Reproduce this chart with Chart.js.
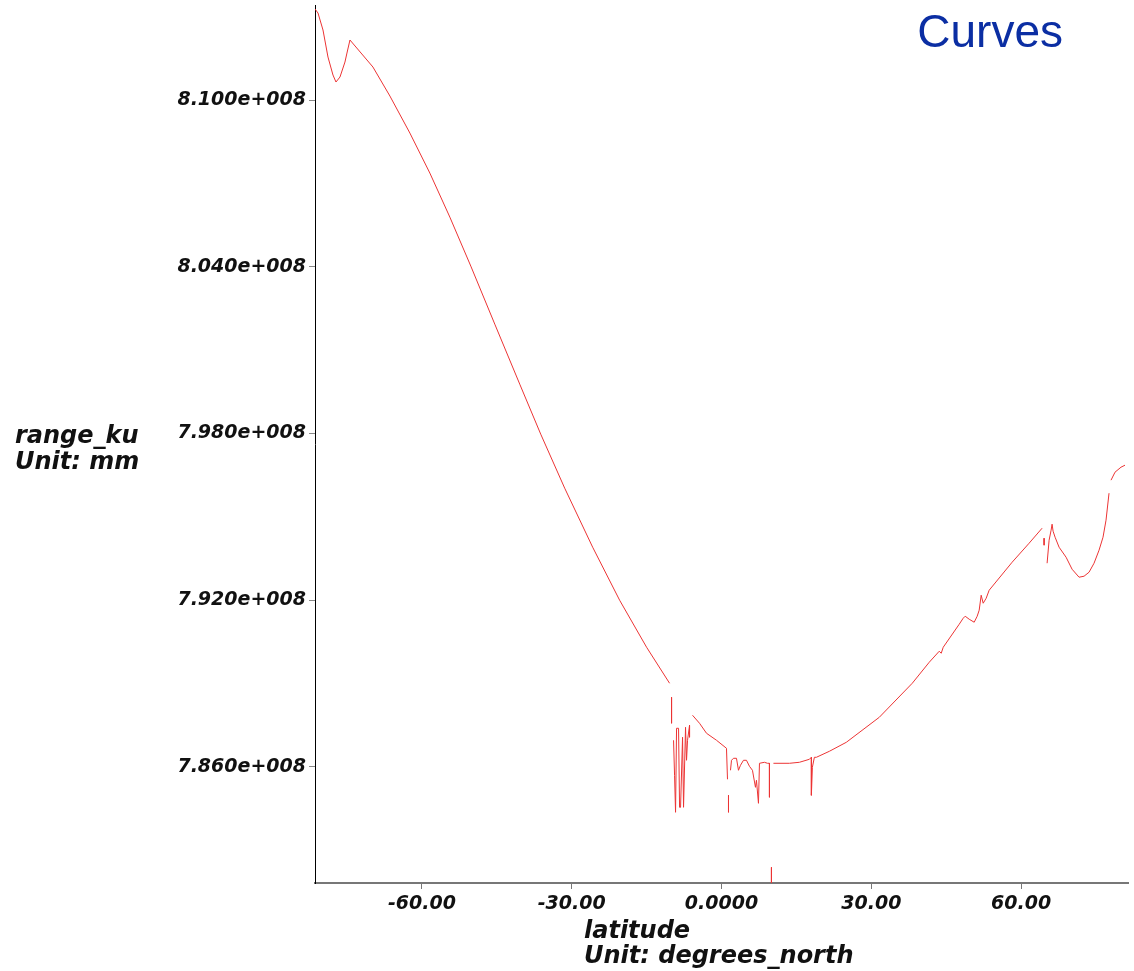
<!DOCTYPE html>
<html>
<head>
<meta charset="utf-8">
<title>Curves</title>
<script src="https://cdn.jsdelivr.net/npm/chart.js@4.4.1/dist/chart.umd.min.js"></script>
<style>
  html, body { margin: 0; padding: 0; background: #ffffff; }
  #wrap { position: relative; width: 1134px; height: 971px; }
</style>
</head>
<body>
<div id="wrap"><canvas id="curveChart" width="1134" height="971"></canvas></div>
<script>
// latitude (degrees_north) and range_ku (mm) along the track; null = gap in the track
const latitude = [
  -81.4, -80.8, -79.8, -78.8, -77.8, -77.2, -76.4, -75.4, -75.0, -74.4,
  -69.8, -66.4, -62.4, -58.4, -54.4, -50.2, -45.4, -40.4, -36.2, -31.4,
  -25.8, -20.4, -15.0, -10.4, -10.4,
  -10.0, -10.0, -10.0,
  -9.6, -9.4, -9.2, -9.0, -8.6, -8.4, -8.2, -7.8, -7.6, -7.2, -7.0, -6.8, -6.4, -6.4, -6.4,
  -5.8, -4.4, -3.0, -1.0, 1.0, 1.2, 1.2,
  1.4, 1.4, 1.4,
  1.8, 2.0, 2.4, 3.0, 3.4, 3.8, 4.4, 5.0, 5.6, 6.2, 6.8, 7.0, 7.4, 7.6, 8.6, 9.2, 9.6, 9.6, 9.6,
  10.0, 10.0, 10.0,
  10.4, 13.6, 15.6, 17.6, 18.0, 18.0, 18.2, 18.6, 19.0, 21.6, 25.0, 31.6, 38.2, 41.6, 43.6,
  44.0, 44.4, 47.6, 48.4, 48.8, 49.6, 50.6, 51.2, 51.6, 52.0, 52.4, 53.0, 53.6, 58.2, 61.6, 64.2, 64.2,
  64.6, 64.6, 64.6,
  65.2, 65.6, 66.0, 66.2, 66.4, 66.8, 67.6, 69.0, 70.2, 71.6, 72.6, 73.6, 74.6, 75.6, 76.4, 77.0, 77.6, 77.6,
  78.0, 78.8, 80.0, 80.8
];

const rangeKu = [
  813276000, 813132000, 812520000, 811548000, 810900000, 810648000, 810828000, 811368000, 811692000, 812160000,
  811188000, 810144000, 808812000, 807372000, 805788000, 804024000, 801936000, 799776000, 797976000, 796032000,
  793908000, 792000000, 790308000, 789012000, null,
  788508000, 787572000, null,
  786960000, 785700000, 784368000, 787392000, 787392000, 784548000, 784548000, 787068000, 784548000, 787428000,
  786240000, 786960000, 787500000, 787068000, null,
  787860000, 787572000, 787212000, 786960000, 786672000, 785556000, null,
  784980000, 784368000, null,
  785880000, 786240000, 786312000, 786312000, 785880000, 786060000, 786240000, 786240000, 786024000, 785880000,
  785268000, 785520000, 784692000, 786132000, 786168000, 786132000, 786132000, 784908000, null,
  782388000, 781200000, null,
  786132000, 786132000, 786168000, 786276000, 786348000, 784980000, 785988000, 786348000, 786348000, 786564000,
  786888000, 787788000, 789012000, 789768000, 790164000,
  790092000, 790308000, 791136000, 791352000, 791424000, 791316000, 791208000, 791424000, 791640000, 792180000,
  791892000, 792072000, 792360000, 793368000, 794052000, 794592000, null,
  794232000, 793980000, null,
  793332000, 794160000, 794520000, 794736000, 794484000, 794268000, 793908000, 793548000, 793116000, 792828000,
  792864000, 793008000, 793332000, 793800000, 794268000, 794880000, 795852000, null,
  796320000, 796608000, 796788000, 796860000
];

// axis ranges and tick positions
const latMin = -81.4;
const latMax = 81.4;
const latTicks = [-60, -30, 0, 30, 60];
const rangeMin = 781824000;
const rangeMax = 813420000;
const rangeTicks = [786000000, 792000000, 798000000, 804000000, 810000000];

const points = latitude.map((lat, i) => ({ x: lat, y: rangeKu[i] }));

const tickFont = { family: 'DejaVu Sans', size: 19, style: 'italic', weight: 'bold' };

function latLabel(v) {
    return v === 0 ? '0.0000' : v.toFixed(2);
}

function rangeLabel(v) {
    return (v / 1e8).toFixed(3) + 'e+008';
}

// axis titles and the "Curves" heading
const labelPlugin = {
    id: 'curveLabels',
    afterDraw(chart) {
        const ctx = chart.ctx;
        const area = chart.chartArea;
        ctx.save();
        ctx.fillStyle = '#111111';
        ctx.textAlign = 'left';
        ctx.textBaseline = 'middle';
        ctx.font = 'italic bold 24px "DejaVu Sans"';
        ctx.fillText('range_ku', 15, 437);
        ctx.fillText('Unit: mm', 15, 463);
        ctx.fillText('latitude', 584, area.bottom + 49);
        ctx.fillText('Unit: degrees_north', 584, area.bottom + 74);

        ctx.fillStyle = '#0b2ea3';
        ctx.textAlign = 'right';
        ctx.textBaseline = 'alphabetic';
        ctx.font = '46px "Liberation Sans"';
        ctx.fillText('Curves', 1063, 47);
        ctx.restore();
    }
};

new Chart(document.getElementById('curveChart'), {
    type: 'line',
    data: {
        datasets: [{
            label: 'range_ku',
            data: points,
            borderColor: 'rgb(236, 52, 52)',
            borderWidth: 1,
            pointRadius: 0,
            tension: 0,
            spanGaps: false,
            fill: false
        }]
    },
    options: {
        responsive: false,
        animation: false,
        layout: { padding: { top: 5, right: 6, left: 0, bottom: 0 } },
        plugins: {
            legend: { display: false },
            tooltip: { enabled: false }
        },
        scales: {
            x: {
                type: 'linear',
                min: latMin,
                max: latMax,
                afterBuildTicks: scale => { scale.ticks = latTicks.map(v => ({ value: v })); },
                afterFit: scale => {
                    scale.height = 88;
                    scale.paddingLeft = 0;
                    scale.paddingRight = 0;
                },
                grid: { drawOnChartArea: false, drawTicks: true, tickLength: 6, color: '#777777', lineWidth: 1 },
                border: { display: true, color: '#777777', width: 2 },
                ticks: {
                    color: '#111111',
                    font: tickFont,
                    padding: 4,
                    maxRotation: 0,
                    callback: v => latLabel(v)
                }
            },
            y: {
                type: 'linear',
                min: rangeMin,
                max: rangeMax,
                afterBuildTicks: scale => { scale.ticks = rangeTicks.map(v => ({ value: v })); },
                afterFit: scale => {
                    scale.width = 315;
                    scale.paddingTop = 0;
                    scale.paddingBottom = 0;
                },
                grid: { drawOnChartArea: false, drawTicks: true, tickLength: 6, color: '#888888', lineWidth: 1 },
                border: { display: true, color: '#000000', width: 1 },
                ticks: {
                    color: '#111111',
                    font: tickFont,
                    padding: 3,
                    callback: v => rangeLabel(v)
                }
            }
        }
    },
    plugins: [labelPlugin]
});
</script>
</body>
</html>
